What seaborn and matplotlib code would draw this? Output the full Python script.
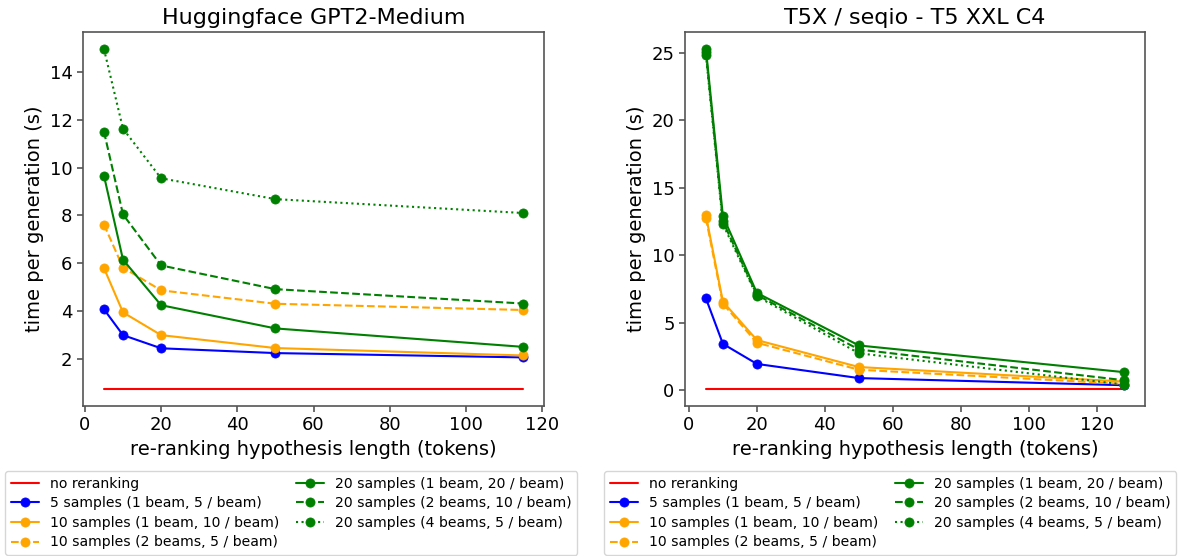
import matplotlib
matplotlib.use("Agg")
import matplotlib.pyplot as plt
import seaborn as sns
import numpy as np

sns.set_style("white")
plt.rcParams['font.family'] = ['DejaVu Sans']
plt.rcParams['text.color'] = 'black'
plt.rcParams['axes.labelcolor'] = 'black'

labels = [
    "no reranking",
    "5 samples (1 beam, 5 / beam)",
    "10 samples (1 beam, 10 / beam)",
    "10 samples (2 beams, 5 / beam)",
    "20 samples (1 beam, 20 / beam)",
    "20 samples (2 beams, 10 / beam)",
    "20 samples (4 beams, 5 / beam)",
]
colors = ["red", "blue", "orange", "orange", "green", "green", "green"]
styles = ["-", "-", "-", "--", "-", "--", ":"]
has_marker = [False, True, True, True, True, True, True]

# Left: Huggingface GPT2-Medium
gpt2_x = [5, 10, 20, 50, 115]
gpt2_vals = [
    [0.75, 0.75, 0.75, 0.75, 0.75],
    [4.08, 3.00, 2.45, 2.25, 2.07],
    [5.80, 3.95, 3.00, 2.46, 2.15],
    [7.62, 5.82, 4.87, 4.31, 4.05],
    [9.66, 6.15, 4.25, 3.28, 2.51],
    [11.50, 8.04, 5.91, 4.92, 4.32],
    [14.95, 11.62, 9.55, 8.68, 8.10],
]

# Right: T5X / seqio - T5 XXL C4
t5_x = [5, 10, 20, 50, 128]
t5_vals = [
    [0.07, 0.07, 0.07, 0.07, 0.07],
    [6.80, 3.42, 1.93, 0.88, 0.35],
    [12.95, 6.55, 3.70, 1.70, 0.62],
    [12.75, 6.40, 3.50, 1.50, 0.45],
    [25.30, 12.90, 7.20, 3.30, 1.32],
    [25.05, 12.50, 7.05, 3.00, 0.72],
    [24.85, 12.30, 6.95, 2.72, 0.40],
]

titles = ["Huggingface GPT2-Medium", "T5X / seqio - T5 XXL C4"]
xticks = [0, 20, 40, 60, 80, 100, 120]

W, H = 1179, 556
fig = plt.figure(figsize=(W / 100, H / 100), dpi=100)
ax1 = fig.add_axes([83 / W, 1 - 406 / H, 461 / W, 374 / H])
ax2 = fig.add_axes([685 / W, 1 - 406 / H, 460 / W, 374 / H])

legend_x = [5, 604]
for ax, xs, vals, title, lx in zip([ax1, ax2], [gpt2_x, t5_x], [gpt2_vals, t5_vals], titles, legend_x):
    for v, lab, c, ls, m in zip(vals, labels, colors, styles, has_marker):
        kw = {}
        if m:
            kw = dict(marker="o", markersize=6.6, markeredgecolor=c, markeredgewidth=0.5)
        sns.lineplot(x=xs, y=v, ax=ax, color=c, linestyle=ls, linewidth=1.5, label=lab, **kw)
    ax.set_title(title, fontsize=16, color="black")
    ax.set_xlabel("re-ranking hypothesis length (tokens)", fontsize=14)
    ax.set_ylabel("time per generation (s)", fontsize=14)
    ax.set_xticks(xticks)
    ax.tick_params(axis="both", labelsize=13, direction="out", length=4, width=1.2,
                   color="#555555", labelcolor="black", left=True, bottom=True)
    for s in ax.spines.values():
        s.set_color("#555555")
        s.set_linewidth(1.2)
    h, l = ax.get_legend_handles_labels()
    ax.get_legend().remove()
    fig.legend(h, l, loc="upper left", bbox_to_anchor=(lx / W, 1 - 471 / H), ncol=2, fontsize=10.1,
               labelspacing=0.4, columnspacing=1.2, borderaxespad=0.0,
               frameon=True, edgecolor="#cccccc", labelcolor="black")

fig.savefig("out.png", dpi=100)
